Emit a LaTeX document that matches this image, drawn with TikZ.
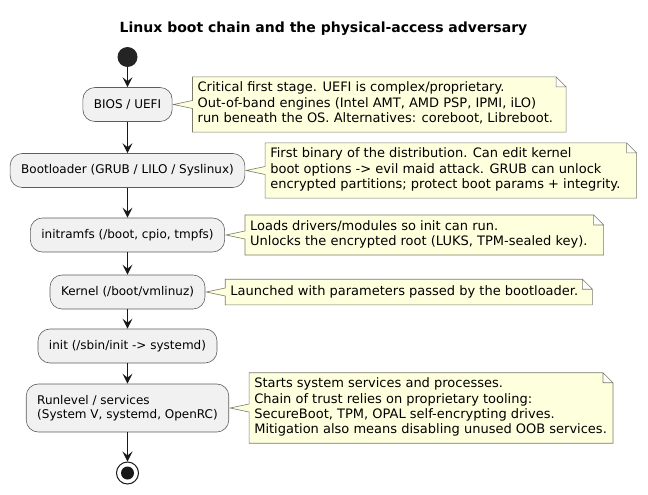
\documentclass[tikz,border=0pt]{standalone}
\usepackage{fontspec}
\setmainfont{DejaVu Sans}
\usetikzlibrary{arrows.meta, positioning, calc, backgrounds}

\definecolor{stagefill}{HTML}{F1F1F1}
\definecolor{inkdark}{HTML}{181818}
\definecolor{notefill}{HTML}{FEFFDD}
\definecolor{noteedge}{HTML}{7A7A6A}

\newcommand{\actfont}{\fontsize{12}{14}\selectfont}
\newcommand{\notefont}{\fontsize{13}{15.2}\selectfont}

\tikzset{
    stage/.style={draw=inkdark!70, fill=stagefill, rounded corners=12pt, line width=0.6pt, minimum height=34pt, inner xsep=11pt, align=center, font=\actfont},
    remark/.style={align=left, inner sep=0pt, font=\notefont, execute at begin node=\strut, execute at end node=\strut},
    notebody/.style={draw=noteedge, fill=notefill, line width=0.6pt, line join=miter},
    arrow/.style={draw=inkdark, -{Stealth[length=10pt, width=10pt, inset=4pt]}, line width=1pt},
    startdot/.style={circle, fill=inkdark!95, minimum size=20pt, inner sep=0pt},
    stopdot/.style={circle, draw=inkdark, line width=1pt, fill=white, minimum size=22pt, inner sep=0pt, path picture={\fill[inkdark] (path picture bounding box.center) circle (6.5pt);}}
}

% folded note behind #1, pointing at #2, #3 = padding on the right
\newcommand{\drawnote}[3]{%
  \begin{scope}[on background layer]
    \draw [notebody] let \p1=(#1.north west), \p2=(#1.south east), \p3=(#2.east), \p4=(#1.west) in
      (\x1-5pt,\y1+5pt) -- (\x2+#3pt-10pt,\y1+5pt) -- (\x2+#3pt,\y1-5pt) -- (\x2+#3pt,\y2-5pt) -- (\x1-5pt,\y2-5pt)
      -- (\x1-5pt,\y4-4pt) -- (\x3+1pt,\y3) -- (\x1-5pt,\y4+4pt) -- cycle
      (\x2+#3pt-10pt,\y1+5pt) -- (\x2+#3pt-10pt,\y1-5pt) -- (\x2+#3pt,\y1-5pt);
  \end{scope}}

\begin{document}
\begin{tikzpicture}[x=1pt, y=-1pt]
    \useasboundingbox (0,0) rectangle (648,495);
    \node [font=\bfseries\fontsize{14}{16}\selectfont] (title) at (323.5,29) {Linux boot chain and the physical-access adversary};

    \node [startdot] (start) at (127.5,57) {};
    \node [stage] (bios) at (127.5,104.5) {BIOS / UEFI};
    \node [stage] (boot) at (127.5,170.5) {Bootloader (GRUB / LILO / Syslinux)};
    \node [stage] (initrd) at (127.5,235) {initramfs (/boot, cpio, tmpfs)};
    \node [stage] (kernel) at (127.5,292) {Kernel (/boot/vmlinuz)};
    \node [stage] (init) at (127.5,346) {init (/sbin/init -> systemd)};
    \node [stage, align=left, minimum height=48pt] (runlvl) at (127.5,408) {Runlevel / services\\(System V, systemd, OpenRC)};
    \node [stopdot] (stop) at (127.5,473) {};

    \node [remark, right=25pt of bios] (nbios) {Critical first stage. UEFI is complex/proprietary.\\Out-of-band engines (Intel AMT, AMD PSP, IPMI, iLO)\\run beneath the OS. Alternatives: coreboot, Libreboot.};
    \node [remark, right=25pt of boot] (nboot) {First binary of the distribution. Can edit kernel\\boot options -> evil maid attack. GRUB can unlock\\encrypted partitions; protect boot params + integrity.};
    \node [remark, right=25pt of initrd] (ninitrd) {Loads drivers/modules so init can run.\\Unlocks the encrypted root (LUKS, TPM-sealed key).};
    \node [remark, right=25pt of kernel] (nkernel) {Launched with parameters passed by the bootloader.};
    \node [remark, right=25pt of runlvl] (nrunlvl) {Starts system services and processes.\\Chain of trust relies on proprietary tooling:\\SecureBoot, TPM, OPAL self-encrypting drives.\\Mitigation also means disabling unused OOB services.};

    \drawnote{nbios}{bios}{13}
    \drawnote{nboot}{boot}{16}
    \drawnote{ninitrd}{initrd}{16}
    \drawnote{nkernel}{kernel}{14}
    \drawnote{nrunlvl}{runlvl}{6}

    \draw [arrow] (start) -- (bios);
    \draw [arrow] (bios) -- (boot);
    \draw [arrow] (boot) -- (initrd);
    \draw [arrow] (initrd) -- (kernel);
    \draw [arrow] (kernel) -- (init);
    \draw [arrow] (init) -- (runlvl);
    \draw [arrow] (runlvl) -- (stop);
\end{tikzpicture}
\end{document}
